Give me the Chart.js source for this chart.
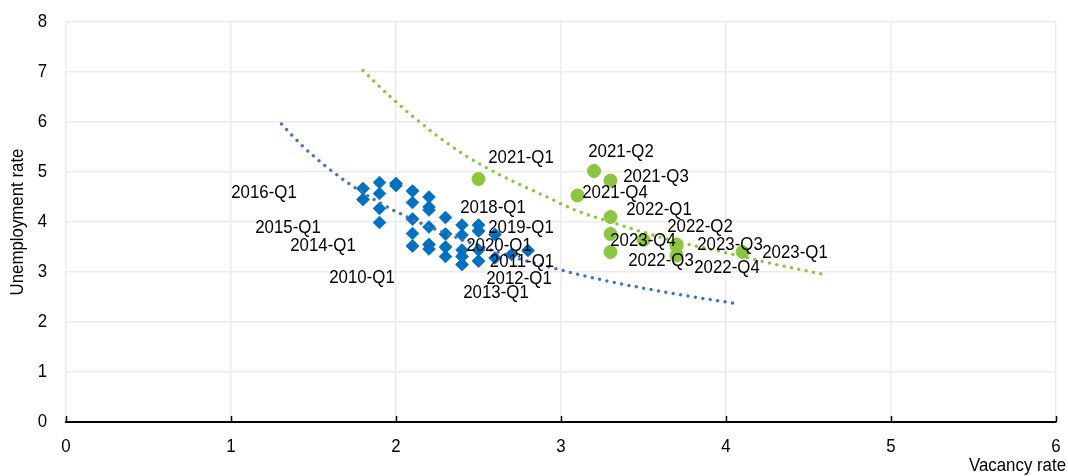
<!DOCTYPE html>
<html>
<head>
<meta charset="utf-8">
<title>Unemployment and vacancy rates</title>
<script src="https://cdn.jsdelivr.net/npm/chart.js@4.4.1/dist/chart.umd.min.js"></script>
<style>
  html, body { margin: 0; padding: 0; background: #ffffff; }
  #chart { display: block; }
</style>
</head>
<body>
<canvas id="chart" width="1068" height="476"></canvas>
<script>
// 2010-2020 quarters: vacancy rate (x) and unemployment rate (y), %
const blueVacancy = [1.80, 1.80, 1.90, 1.90, 1.90, 1.90, 2.00, 2.00, 2.10, 2.10, 2.10, 2.10,
                     2.10, 2.20, 2.20, 2.20, 2.20, 2.20, 2.20, 2.30, 2.30, 2.30, 2.30, 2.40,
                     2.40, 2.40, 2.40, 2.40, 2.50, 2.50, 2.50, 2.50, 2.60, 2.60, 2.70, 2.80];
const blueUnemp   = [4.67, 4.45, 4.79, 4.57, 4.27, 3.99, 4.77, 4.73, 4.62, 4.39, 4.06, 3.77,
                     3.52, 4.50, 4.30, 4.24, 3.90, 3.55, 3.46, 4.09, 3.76, 3.50, 3.31, 3.94,
                     3.74, 3.44, 3.31, 3.15, 3.94, 3.82, 3.44, 3.22, 3.75, 3.28, 3.35, 3.43];
const blueLabels  = ['2016-Q1', '', '', '', '', '2015-Q1', '', '', '', '', '', '',
                     '2014-Q1', '', '', '', '', '', '2010-Q1', '', '', '', '', '',
                     '', '', '', '', '2018-Q1', '2019-Q1', '', '2013-Q1', '2020-Q1', '', '2012-Q1', '2011-Q1'];

// 2021-2023 quarters
const greenLabels  = ['2021-Q1', '2021-Q2', '2021-Q3', '2021-Q4', '2022-Q1', '2022-Q2',
                      '2022-Q3', '2022-Q4', '2023-Q1', '2023-Q2', '2023-Q3', '2023-Q4'];
const greenVacancy = [2.50, 3.20, 3.30, 3.10, 3.30, 3.70, 3.30, 3.70, 4.10, 3.70, 3.50, 3.30];
const greenUnemp   = [4.86, 5.02, 4.83, 4.53, 4.10, 3.55, 3.40, 3.33, 3.40, 3.52, 3.64, 3.76];

// Trend curves
const blueTrendX  = [1.306, 1.44, 1.584, 1.715, 1.866, 2.068, 2.25, 2.613, 2.895, 3.28, 3.68, 4.076];
const blueTrendY  = [5.96, 5.50, 5.09, 4.77, 4.45, 4.10, 3.84, 3.40, 3.13, 2.82, 2.57, 2.36];
const greenTrendX = [1.80, 1.98, 2.20, 2.43, 2.65, 2.895, 3.077, 3.28, 3.68, 4.086, 4.29, 4.58];
const greenTrendY = [7.03, 6.46, 5.85, 5.31, 4.91, 4.53, 4.25, 4.02, 3.63, 3.32, 3.16, 2.96];

// Axis ticks
const xTicks = [0, 1, 2, 3, 4, 5, 6];
const yTicks = [0, 1, 2, 3, 4, 5, 6, 7, 8];

// Where each point's label sits relative to its marker (pixels)
const labelOffsets = {
  '2016-Q1': [-99, 4.5], '2015-Q1': [-91.5, 5.5], '2014-Q1': [-89.5, 0], '2010-Q1': [-67, 29],
  '2018-Q1': [14.5, -17], '2019-Q1': [42.5, -3], '2020-Q1': [4, 11.5], '2011-Q1': [-6, 11.5],
  '2012-Q1': [7.5, 24.5], '2013-Q1': [17.5, 32],
  '2021-Q1': [42.5, -21], '2021-Q2': [27, -19], '2021-Q3': [45.5, -3.5], '2021-Q4': [37.5, -2.5],
  '2022-Q1': [48.5, -7], '2022-Q2': [23.5, -17.5], '2022-Q3': [50.5, 9], '2022-Q4': [50.5, 12.5],
  '2023-Q1': [52.5, 1], '2023-Q3': [86.5, 5], '2023-Q4': [32.5, 7]
};

const FONT = "'Liberation Sans', Arial, Helvetica, sans-serif";
const TEXT_SIZE = 18.5;
const TEXT_NARROW = 0.91;
const BLUE_MARK = '#0070c0';
const BLUE_TREND = '#4472c4';
const GREEN = '#8cc63f';

const toPoints = (xs, ys) => xs.map((x, i) => ({ x: x, y: ys[i] }));
const shownLabels = {
  blue: blueLabels,
  green: greenLabels.map(l => (l in labelOffsets ? l : ''))
};

// Slightly condensed text, optionally rotated
function narrowText(ctx, text, x, y, align, angle) {
  ctx.save();
  ctx.translate(x, y);
  if (angle) ctx.rotate(angle);
  ctx.scale(TEXT_NARROW, 1);
  ctx.font = TEXT_SIZE + 'px ' + FONT;
  ctx.fillStyle = '#000000';
  ctx.textAlign = align;
  ctx.textBaseline = 'middle';
  ctx.fillText(text, 0, 0);
  ctx.restore();
}

// Point labels, drawn above all marks
const pointLabels = {
  id: 'pointLabels',
  afterDatasetsDraw(chart) {
    const ctx = chart.ctx;
    chart.data.datasets.forEach((ds, di) => {
      if (!ds.labelKey) return;
      const labels = shownLabels[ds.labelKey];
      const meta = chart.getDatasetMeta(di);
      meta.data.forEach((el, i) => {
        const text = labels[i];
        if (!text) return;
        const off = labelOffsets[text];
        narrowText(ctx, text, el.x + off[0], el.y + off[1], 'center', 0);
      });
    });
  }
};

// Tick labels, axis titles and the short inward tick marks on the horizontal axis
const axisDecor = {
  id: 'axisDecor',
  afterDraw(chart) {
    const ctx = chart.ctx;
    const xs = chart.scales.x;
    const ys = chart.scales.y;
    const area = chart.chartArea;
    ctx.save();
    ctx.strokeStyle = '#000000';
    ctx.lineWidth = 1.5;
    xTicks.forEach(v => {
      const px = Math.round(xs.getPixelForValue(v)) + 0.5;
      ctx.beginPath();
      ctx.moveTo(px, area.bottom);
      ctx.lineTo(px, area.bottom - 6);
      ctx.stroke();
    });
    ctx.restore();
    xTicks.forEach(v => narrowText(ctx, String(v), xs.getPixelForValue(v), area.bottom + 25, 'center', 0));
    yTicks.forEach(v => narrowText(ctx, String(v), 47, ys.getPixelForValue(v), 'right', 0));
    narrowText(ctx, 'Vacancy rate', 1066, 466, 'right', 0);
    narrowText(ctx, 'Unemployment rate', 18, (area.top + area.bottom) / 2, 'center', -Math.PI / 2);
  }
};

const dotted = {
  showLine: true,
  pointRadius: 0,
  pointHoverRadius: 0,
  borderWidth: 3.5,
  borderDash: [0, 7.5],
  borderCapStyle: 'round',
  cubicInterpolationMode: 'monotone',
  fill: false
};

new Chart(document.getElementById('chart'), {
  type: 'scatter',
  data: {
    datasets: [
      Object.assign({ label: 'Trend 2021-2023', data: toPoints(greenTrendX, greenTrendY), borderColor: GREEN, order: 0 }, dotted),
      Object.assign({ label: 'Trend 2010-2020', data: toPoints(blueTrendX, blueTrendY), borderColor: BLUE_TREND, order: 0 }, dotted),
      {
        label: '2021-2023',
        labelKey: 'green',
        data: toPoints(greenVacancy, greenUnemp),
        pointStyle: 'circle',
        pointRadius: 6.5,
        pointBackgroundColor: GREEN,
        pointBorderColor: GREEN,
        pointBorderWidth: 1,
        order: 1
      },
      {
        label: '2010-2020',
        labelKey: 'blue',
        data: toPoints(blueVacancy, blueUnemp),
        pointStyle: 'rectRot',
        pointRadius: 6.3,
        pointBackgroundColor: BLUE_MARK,
        pointBorderColor: BLUE_MARK,
        pointBorderWidth: 1,
        order: 2
      }
    ]
  },
  options: {
    responsive: false,
    animation: false,
    layout: { padding: { top: 22, right: 12, left: 0, bottom: 0 } },
    plugins: {
      legend: { display: false },
      tooltip: { enabled: false }
    },
    scales: {
      x: {
        type: 'linear',
        min: 0,
        max: 6,
        afterFit(scale) { scale.height = 54; },
        afterBuildTicks(scale) { scale.ticks = xTicks.map(v => ({ value: v })); },
        ticks: { display: false },
        grid: { color: '#ececec', lineWidth: 1.5, drawTicks: false },
        border: { display: true, color: '#000000', width: 2 }
      },
      y: {
        type: 'linear',
        min: 0,
        max: 8,
        afterFit(scale) { scale.width = 66; },
        afterBuildTicks(scale) { scale.ticks = yTicks.map(v => ({ value: v })); },
        ticks: { display: false },
        grid: { color: '#ececec', lineWidth: 1.5, drawTicks: false },
        border: { display: false }
      }
    }
  },
  plugins: [pointLabels, axisDecor]
});
</script>
</body>
</html>
